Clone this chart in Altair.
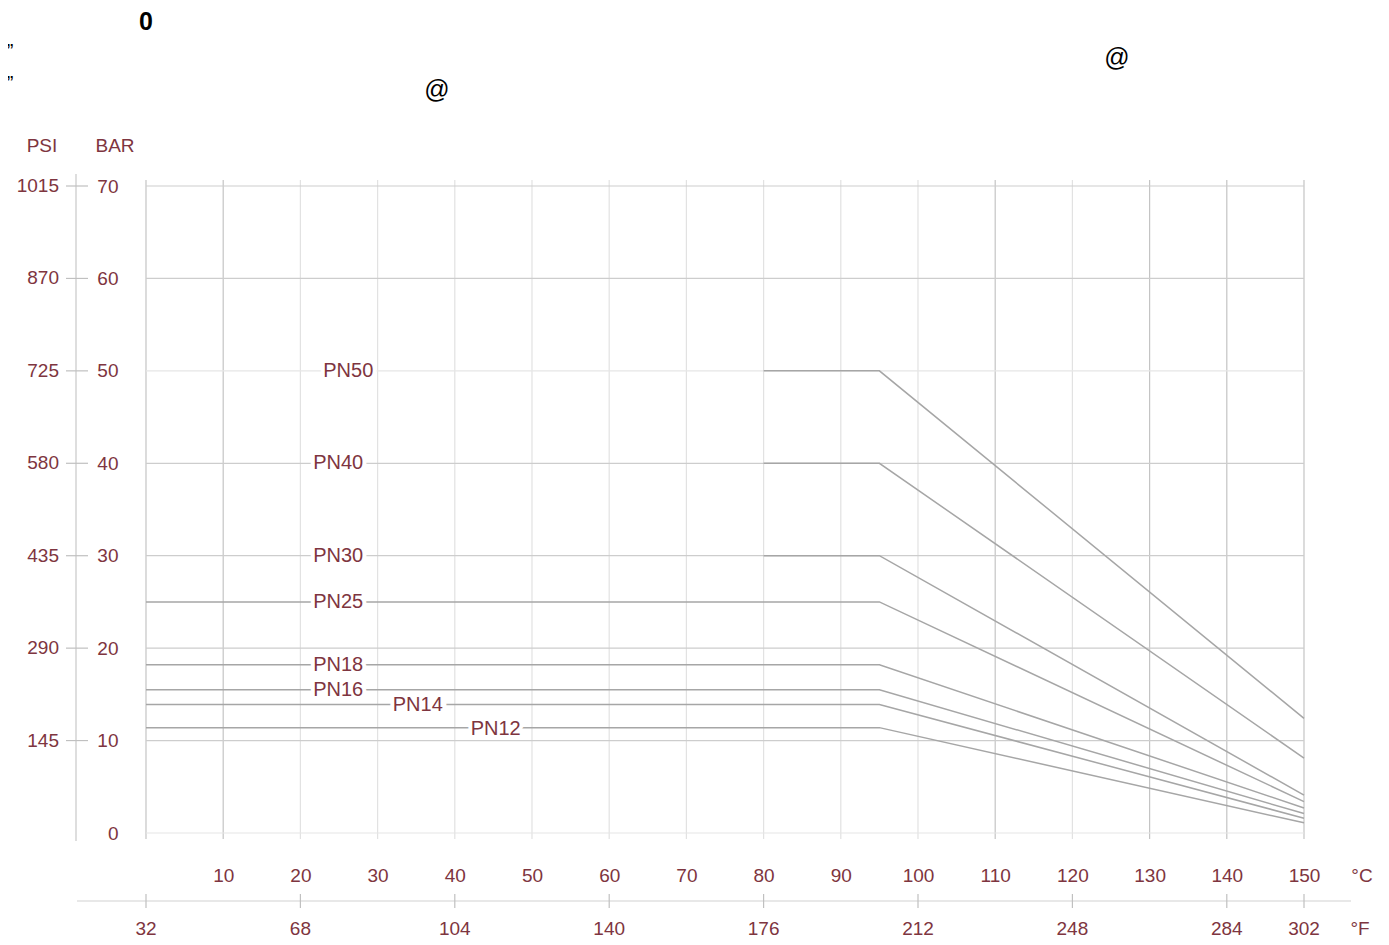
import altair as alt
import pandas as pd

# ---------------- data ----------------
series_names = ["PN50", "PN40", "PN30", "PN25", "PN18", "PN16", "PN14", "PN12"]
temps_hot = [80, 95, 150]          # PN50/40/30 start at 80 °C
temps_cold = [0, 95, 150]          # other ratings start at 0 °C
pn50 = [50, 50, 12.4]
pn40 = [40, 40, 8.1]
pn30 = [30, 30, 4.1]
pn25 = [25, 25, 3.4]
pn18 = [18.2, 18.2, 2.7]
pn16 = [15.5, 15.5, 2.1]
pn14 = [13.9, 13.9, 1.6]
pn12 = [11.4, 11.4, 1.1]

label_temps = [26.2, 24.9, 24.9, 24.9, 24.9, 24.9, 35.2, 45.3]
label_bars = [50, 40, 30, 25, 18.2, 15.5, 13.9, 11.3]

celsius_labels = [10, 20, 30, 40, 50, 60, 70, 80, 90, 100, 110, 120, 130, 140, 150]
grid_c_major = [0, 10, 110, 130, 140, 150]
grid_c_minor = [20, 30, 40, 50, 60, 70, 80, 90, 100, 120]
fahrenheit_at_c = [0, 20, 40, 60, 80, 100, 120, 140, 150]
fahrenheit_labels = ["32", "68", "104", "140", "176", "212", "248", "284", "302"]

bar_ticks = [0, 10, 20, 30, 40, 50, 60, 70]
grid_bar_major = [10, 20, 30, 40, 60, 70]
grid_bar_minor = [0, 50]
psi_at_bar = [10, 20, 30, 40, 50, 60, 70]
psi_labels = ["145", "290", "435", "580", "725", "870", "1015"]

# ---------------- tables ----------------
rows = []
for name, ts, vals in [
    ("PN50", temps_hot, pn50), ("PN40", temps_hot, pn40), ("PN30", temps_hot, pn30),
    ("PN25", temps_cold, pn25), ("PN18", temps_cold, pn18), ("PN16", temps_cold, pn16),
    ("PN14", temps_cold, pn14), ("PN12", temps_cold, pn12),
]:
    for i, (t, v) in enumerate(zip(ts, vals)):
        rows.append({"series": name, "t": t, "p": v, "i": i})
df_lines = pd.DataFrame(rows)
df_labels = pd.DataFrame({"name": series_names, "t": label_temps, "p": label_bars})
df_vmaj = pd.DataFrame({"t": grid_c_major})
df_vmin = pd.DataFrame({"t": grid_c_minor})
df_hmaj = pd.DataFrame({"p": grid_bar_major})
df_hmin = pd.DataFrame({"p": grid_bar_minor})
df_f = pd.DataFrame({"t": fahrenheit_at_c, "f": fahrenheit_labels})
df_psi = pd.DataFrame({"p": psi_at_bar, "psi": psi_labels})
df_one = pd.DataFrame({"k": [0]})

W, H = 1158, 647
RED = "#7e3540"
FONT = "Liberation Sans"
xs = alt.Scale(domain=[0, 150], nice=False, zero=False)
ys = alt.Scale(domain=[0, 70], nice=False)

# ---------------- layers ----------------
vmin = alt.Chart(df_vmin).mark_rule(color="#e2e2e2", strokeWidth=1.2).encode(
    x=alt.X("t:Q", scale=xs), y=alt.value(-6), y2=alt.value(H + 6))
vmaj = alt.Chart(df_vmaj).mark_rule(color="#c4c4c4", strokeWidth=1.2).encode(
    x=alt.X("t:Q", scale=xs), y=alt.value(-6), y2=alt.value(H + 6))
hmin = alt.Chart(df_hmin).mark_rule(color="#e6e6e6", strokeWidth=1.2).encode(
    y=alt.Y("p:Q", scale=ys), x=alt.value(0), x2=alt.value(W))
hmaj = alt.Chart(df_hmaj).mark_rule(color="#cdcdcd", strokeWidth=1.2).encode(
    y=alt.Y("p:Q", scale=ys), x=alt.value(0), x2=alt.value(W))

lines = alt.Chart(df_lines).mark_line(color="#a6a6a6", strokeWidth=1.5).encode(
    x=alt.X("t:Q", scale=xs, title=None,
            axis=alt.Axis(values=celsius_labels, grid=False, domain=False, ticks=False,
                          labelColor=RED, labelFont=FONT, labelFontSize=19,
                          labelPadding=33, labelOverlap=False, labelFlush=False,
                          format="d")),
    y=alt.Y("p:Q", scale=ys, title=None,
            axis=alt.Axis(values=bar_ticks, grid=False, domain=False, ticks=False,
                          labelColor=RED, labelFont=FONT, labelFontSize=19,
                          labelPadding=28, labelOverlap=False, labelFlush=False,
                          format="d")),
    detail="series:N",
    order="i:O",
)

halo = alt.Chart(df_labels).mark_text(
    font=FONT, fontSize=20, color="white", stroke="white", strokeWidth=8
).encode(x=alt.X("t:Q", scale=xs), y=alt.Y("p:Q", scale=ys), text="name:N")
labels = alt.Chart(df_labels).mark_text(font=FONT, fontSize=20, color=RED).encode(
    x=alt.X("t:Q", scale=xs), y=alt.Y("p:Q", scale=ys), text="name:N")

# PSI scale on the far left
psi_line = alt.Chart(df_one).mark_rule(color="#c8c8c8", strokeWidth=1.2).encode(
    x=alt.value(-70), y=alt.value(-12), y2=alt.value(H + 8))
psi_ticks = alt.Chart(df_psi).mark_rule(color="#c0c0c0", strokeWidth=1.2).encode(
    y=alt.Y("p:Q", scale=ys), x=alt.value(-80), x2=alt.value(-58))
psi_text = alt.Chart(df_psi).mark_text(
    font=FONT, fontSize=19, color=RED, align="right", baseline="middle"
).encode(y=alt.Y("p:Q", scale=ys), x=alt.value(-87), text="psi:N")

# Fahrenheit scale at the bottom
f_line = alt.Chart(df_one).mark_rule(color="#d2d2d2", strokeWidth=1.2).encode(
    x=alt.value(-69), x2=alt.value(1205), y=alt.value(715))
f_ticks = alt.Chart(df_f).mark_rule(color="#c0c0c0", strokeWidth=1.2).encode(
    x=alt.X("t:Q", scale=xs), y=alt.value(708), y2=alt.value(722))
f_text = alt.Chart(df_f).mark_text(
    font=FONT, fontSize=19, color=RED, baseline="middle"
).encode(x=alt.X("t:Q", scale=xs), y=alt.value(743), text="f:N")


def note(txt, x, y, size=19, color=RED, weight="normal", font=FONT, align="center"):
    return alt.Chart(df_one).mark_text(
        font=font, fontSize=size, color=color, fontWeight=weight, align=align,
        baseline="middle"
    ).encode(x=alt.value(x), y=alt.value(y), text=alt.value(txt))


units = [
    note("PSI", -104, -40),
    note("BAR", -31, -40),
    note("°C", 1216, 690),
    note("°F", 1214, 743),
    note("0", 0, -164, size=25, color="black", weight="bold"),
    note("”", -136, -134, size=20, color="black"),
    note("”", -136, -102, size=20, color="black"),
    note("@", 971, -128, size=25, color="black"),
    note("@", 291, -96, size=25, color="black"),
]

chart = alt.layer(
    vmin, vmaj, hmin, hmaj, lines, halo, labels,
    psi_line, psi_ticks, psi_text, f_line, f_ticks, f_text, *units
).properties(
    width=W, height=H,
    autosize=alt.AutoSizeParams(type="none"),
    padding={"left": 138, "top": 178, "right": 70, "bottom": 110},
    background="white",
).configure_view(stroke=None)

chart.save("out.html", embed_options={"renderer": "svg", "actions": False})
